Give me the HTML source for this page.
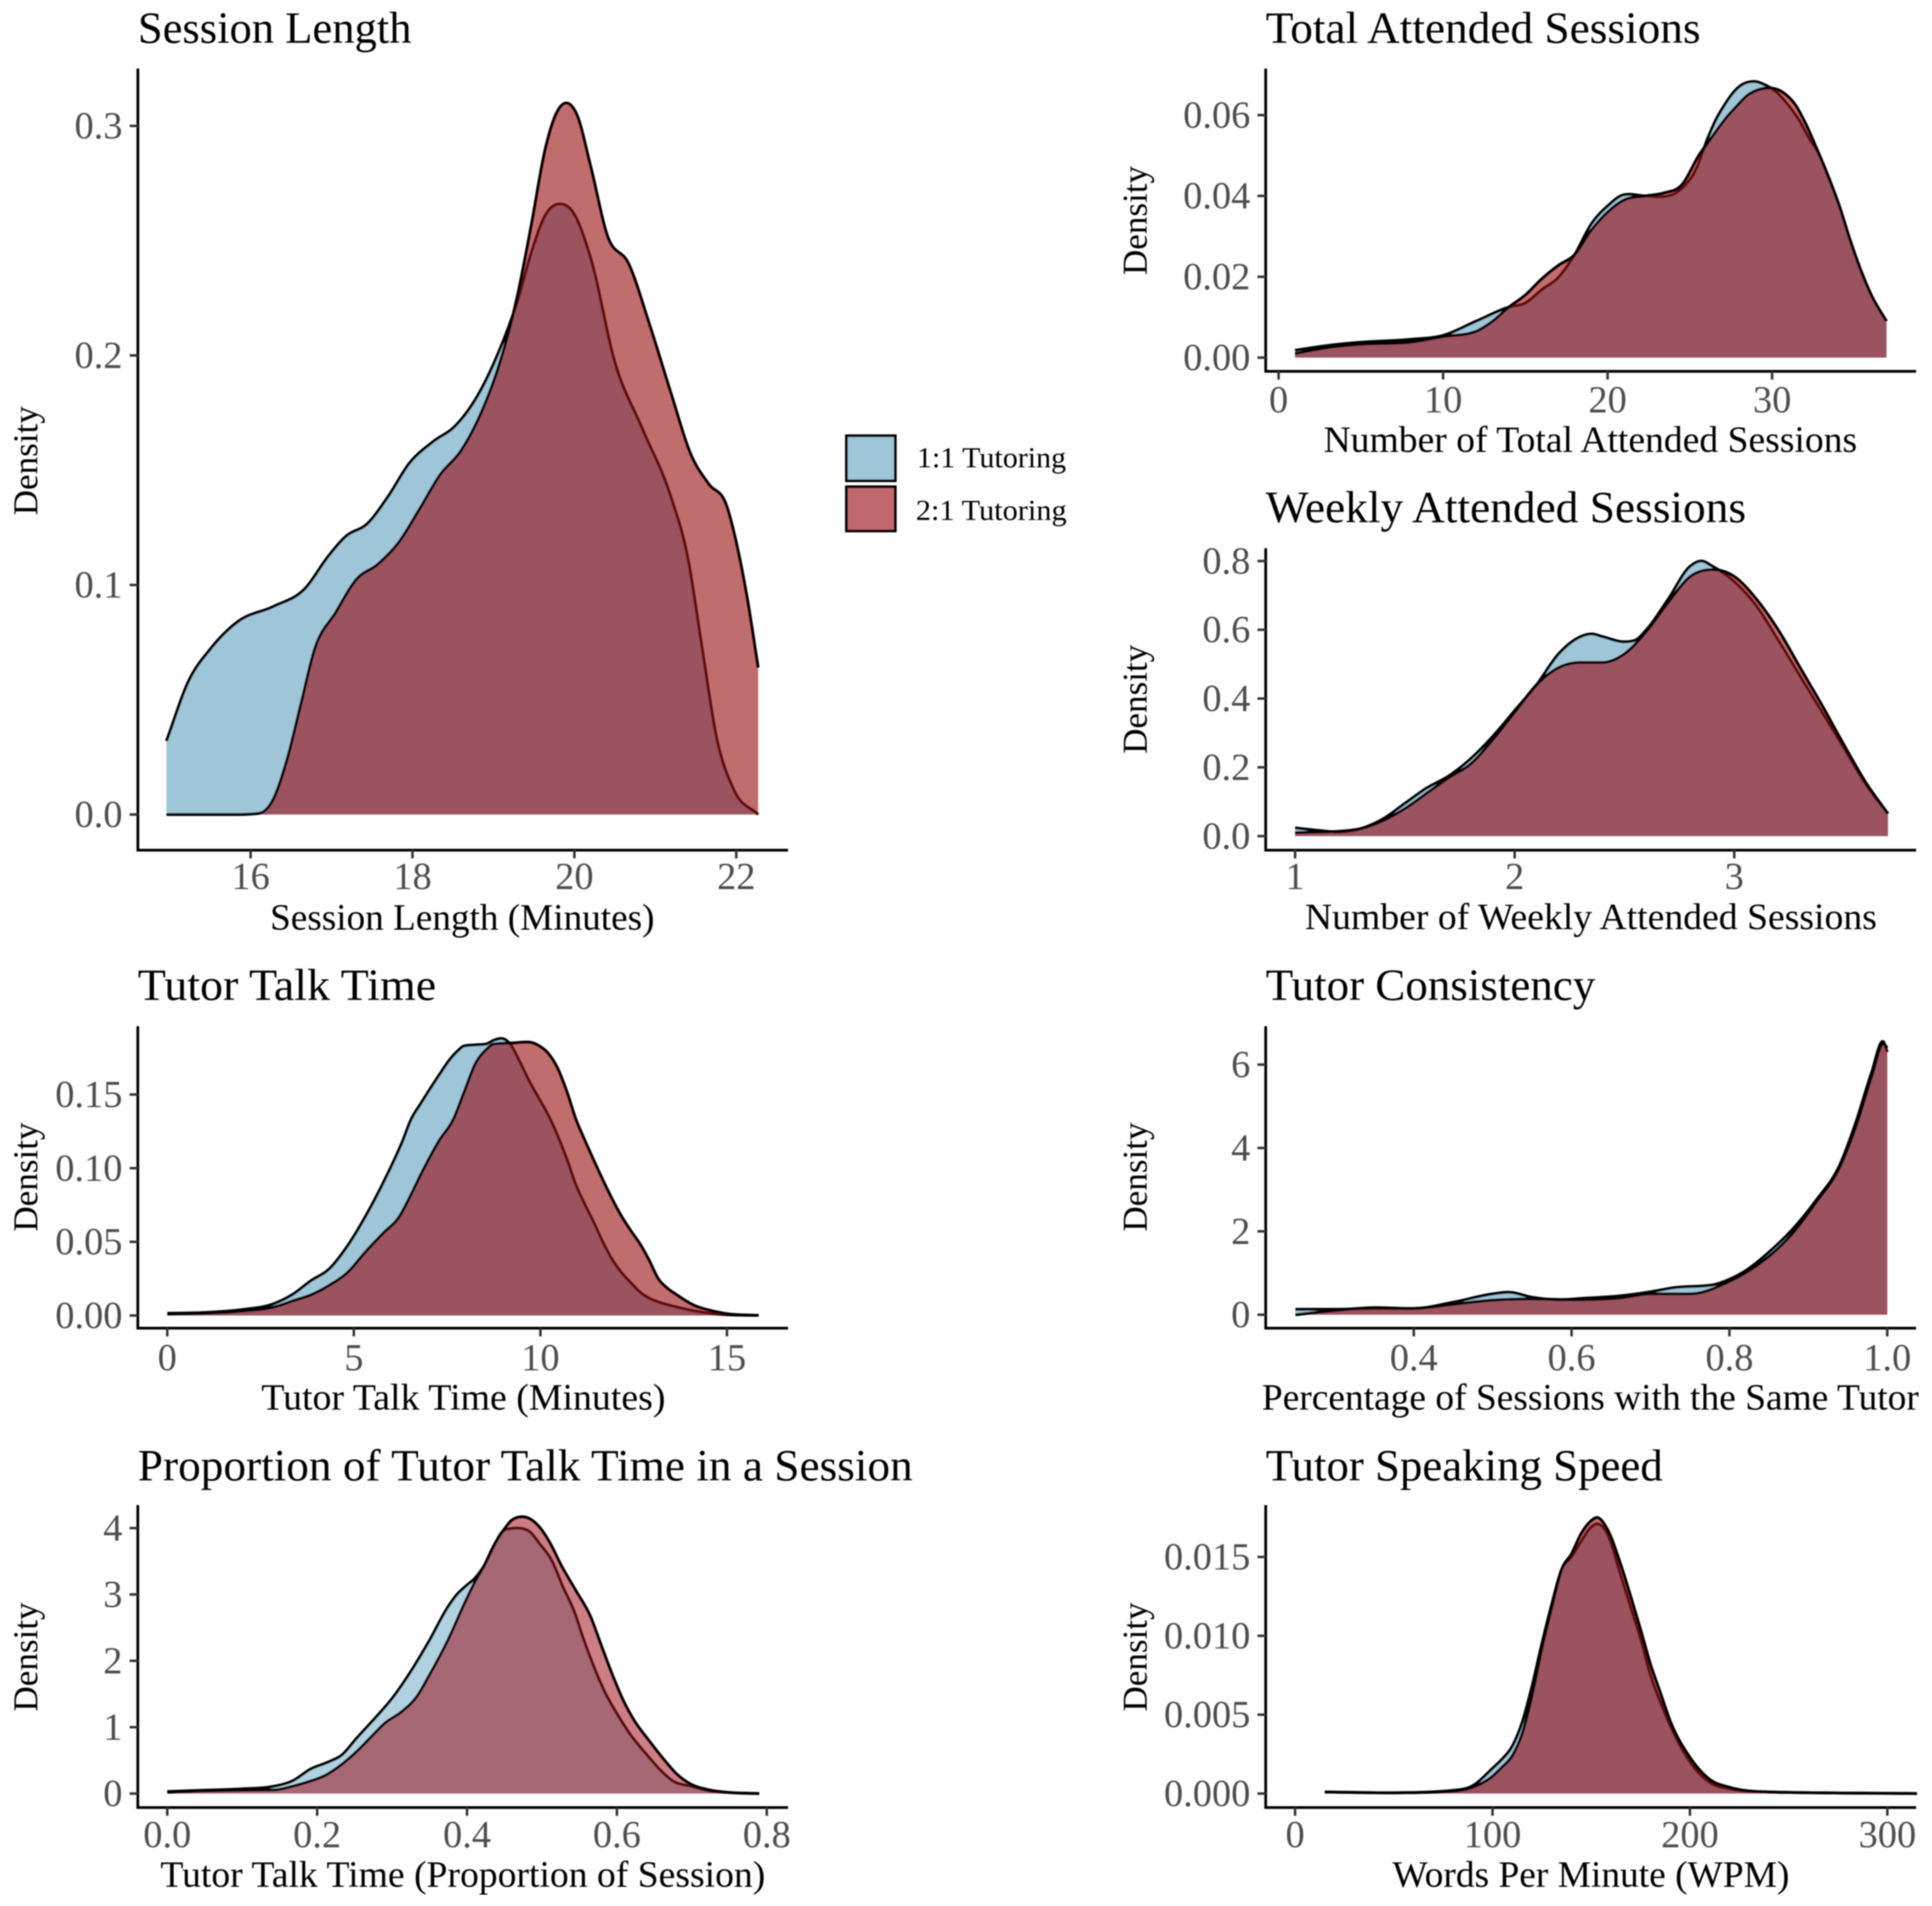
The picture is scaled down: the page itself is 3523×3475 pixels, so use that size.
<!DOCTYPE html>
<html lang="en">
<head>
<meta charset="utf-8">
<title>Tutoring density plots</title>
<style>
html,body{margin:0;padding:0;background:#fff;}
svg{display:block;}
text{font-family:"Liberation Serif",serif;}
</style>
</head>
<body>
<svg id="chart" xmlns="http://www.w3.org/2000/svg" width="3523" height="3475" viewBox="0 0 3523 3475">
<defs><filter id="soft" x="0" y="0" width="100%" height="100%"><feGaussianBlur stdDeviation="1"/></filter></defs>
<rect width="3523" height="3475" fill="#fff"/>
<g id="root" filter="url(#soft)"></g>
</svg>
<script>
// ---- Session Length ----
const sessionXTicks = ["16","18","20","22"];
const sessionYTicks = ["0.0","0.1","0.2","0.3"];
const sessionBlueX = [14.96,15.24,15.5,15.84,16.28,16.66,16.97,17.18,17.44,17.7,17.96,18.26,18.52,18.78,19.03,19.3,19.47,19.64,19.81,19.98,20.2,20.5,20.84,21.19,21.4,21.58,21.75,21.97,22.27];
const sessionBlueY = [0.032,0.0586,0.072,0.084,0.0906,0.098,0.113,0.1213,0.1266,0.1386,0.153,0.1626,0.169,0.181,0.1986,0.224,0.245,0.261,0.266,0.2625,0.2425,0.197,0.168,0.1386,0.112,0.072,0.0346,0.0107,0];
const sessionRedX = [14.96,15.8,16.1,16.28,16.45,16.62,16.79,17.05,17.31,17.57,17.83,18.09,18.34,18.6,18.86,19.08,19.3,19.47,19.64,19.77,19.9,20.03,20.2,20.41,20.67,20.93,21.19,21.45,21.66,21.88,22.01,22.14,22.27];
const sessionRedY = [0,0,0.0005,0.0067,0.024,0.048,0.072,0.088,0.1026,0.109,0.1186,0.1333,0.148,0.1586,0.176,0.197,0.2266,0.2573,0.29,0.305,0.31,0.305,0.2826,0.252,0.24,0.2133,0.184,0.156,0.144,0.1346,0.117,0.0933,0.064];

// ---- Total Attended Sessions ----
const totalXTicks = ["0","10","20","30"];
const totalYTicks = ["0.00","0.02","0.04","0.06"];
const totalBlueX = [1,3,5,8,10,12,14,15,16,17,18,19,20,21,22.28,23.4,24.5,25.4,26.06,26.6,27.06,27.6,28.2,28.95,29.5,30.28,30.95,31.6,32.28,32.84,33.4,34.06,34.73,35.4,36.06,36.95];
const totalBlueY = [0.0018,0.003,0.0038,0.0045,0.0055,0.009,0.0125,0.0135,0.0168,0.0198,0.0255,0.033,0.0375,0.0403,0.04,0.0398,0.0418,0.0468,0.054,0.059,0.0622,0.0654,0.0676,0.0683,0.0676,0.0656,0.0626,0.059,0.054,0.0504,0.0448,0.0378,0.0292,0.0215,0.0152,0.009];
const totalRedX = [1,3,5,8,10,12,13,14,15,16,17,18,19,20,21,22.28,23.4,24.5,25.6,26.17,26.73,27.28,27.84,28.5,29.17,29.84,30.73,31.4,32.06,32.7,33.4,34.06,34.73,35.4,36.06,36.95];
const totalRedY = [0.001,0.0025,0.0033,0.0038,0.0052,0.0065,0.009,0.0125,0.0155,0.0195,0.0228,0.0255,0.0315,0.036,0.039,0.04,0.0407,0.0427,0.0504,0.0536,0.0568,0.0597,0.0622,0.0649,0.0663,0.0667,0.0654,0.0626,0.0577,0.0518,0.045,0.0378,0.0292,0.0215,0.0152,0.009];

// ---- Weekly Attended Sessions ----
const weeklyXTicks = ["1","2","3"];
const weeklyYTicks = ["0.0","0.2","0.4","0.6","0.8"];
const weeklyBlueX = [1,1.1,1.2,1.3,1.4,1.5,1.6,1.7,1.8,1.9,2,2.1,2.2,2.3,2.35,2.4,2.5,2.55,2.6,2.7,2.8,2.85,2.9,3,3.1,3.2,3.3,3.4,3.5,3.6,3.7];
const weeklyBlueY = [0.024,0.017,0.012,0.022,0.05,0.095,0.14,0.175,0.225,0.29,0.365,0.44,0.53,0.58,0.588,0.58,0.565,0.57,0.6,0.69,0.785,0.8,0.785,0.74,0.67,0.57,0.465,0.36,0.255,0.15,0.065];
const weeklyRedX = [1,1.1,1.2,1.3,1.4,1.5,1.6,1.7,1.8,1.9,2,2.1,2.2,2.3,2.4,2.5,2.6,2.7,2.8,2.9,3,3.1,3.2,3.3,3.4,3.5,3.6,3.7];
const weeklyRedY = [0.01,0.012,0.014,0.022,0.045,0.08,0.125,0.17,0.21,0.28,0.36,0.44,0.49,0.505,0.505,0.53,0.595,0.68,0.755,0.775,0.755,0.69,0.6,0.49,0.38,0.265,0.155,0.065];

// ---- Tutor Talk Time ----
const talkXTicks = ["0","5","10","15"];
const talkYTicks = ["0.00","0.05","0.10","0.15"];
const talkBlueX = [0,1,2,2.87,3.36,3.85,4.34,4.83,5.32,5.81,6.3,6.54,6.78,7.28,7.57,7.77,7.96,8.25,8.55,8.75,8.97,9.19,9.43,9.72,9.97,10.21,10.46,10.71,10.95,11.2,11.44,11.69,11.93,12.17,12.42,12.66,12.91,13.15,13.64,14.13,14.62,15.1,15.85];
const talkBlueY = [0.0015,0.002,0.004,0.0081,0.0143,0.0236,0.0316,0.0472,0.0676,0.0912,0.118,0.1334,0.1433,0.163,0.1737,0.1793,0.183,0.1837,0.1843,0.1868,0.188,0.1843,0.1731,0.1582,0.147,0.136,0.1222,0.106,0.0887,0.075,0.0627,0.049,0.0378,0.0292,0.0223,0.0161,0.0118,0.0093,0.0058,0.0031,0.0012,0.0004,0.0001];
const talkRedX = [0,1,2,2.87,3.36,3.85,4.34,4.83,5.32,5.81,6.2,6.54,6.78,7.28,7.67,7.96,8.25,8.55,8.75,9.25,9.72,9.97,10.21,10.46,10.71,10.95,11.2,11.44,11.69,11.93,12.17,12.42,12.66,12.91,13.15,13.4,13.64,14.13,14.62,15.1,15.85];
const talkRedY = [0.001,0.0015,0.003,0.0058,0.0099,0.014,0.0205,0.0292,0.0434,0.0565,0.0664,0.0825,0.095,0.1185,0.1334,0.152,0.1706,0.1806,0.1843,0.185,0.1855,0.183,0.178,0.168,0.152,0.1334,0.1185,0.1049,0.0912,0.0788,0.0676,0.0577,0.049,0.0378,0.0254,0.0186,0.0143,0.0068,0.0031,0.0009,0.0001];

// ---- Proportion of Tutor Talk Time ----
const propXTicks = ["0.0","0.2","0.4","0.6","0.8"];
const propYTicks = ["0","1","2","3","4"];
const propBlueX = [0,0.05,0.1,0.1427,0.1671,0.1915,0.2159,0.2329,0.2524,0.2768,0.3012,0.3256,0.35,0.3744,0.3866,0.3988,0.411,0.4232,0.4354,0.4476,0.4574,0.4671,0.4842,0.4964,0.5135,0.5281,0.5428,0.555,0.5696,0.5842,0.6013,0.6184,0.638,0.6574,0.6745,0.699,0.7233,0.7527,0.79];
const propBlueY = [0.03,0.05,0.07,0.11,0.19,0.37,0.48,0.58,0.83,1.13,1.45,1.85,2.31,2.81,3,3.13,3.25,3.44,3.72,3.95,3.99,4,3.94,3.77,3.5,3.11,2.75,2.34,1.9,1.52,1.18,0.88,0.61,0.36,0.19,0.11,0.04,0.014,0];
const propRedX = [0,0.05,0.1,0.1427,0.1671,0.1915,0.211,0.2281,0.2524,0.2768,0.2891,0.3134,0.3329,0.35,0.3744,0.3988,0.411,0.4232,0.4354,0.4476,0.4598,0.4745,0.4964,0.5111,0.5257,0.5452,0.5647,0.5793,0.594,0.6087,0.6232,0.6428,0.6623,0.6794,0.699,0.7233,0.7527,0.79];
const propRedY = [0.02,0.04,0.05,0.055,0.11,0.19,0.275,0.4,0.63,0.91,1.05,1.24,1.46,1.79,2.31,2.92,3.2,3.44,3.73,3.95,4.12,4.17,4.02,3.77,3.44,3.06,2.67,2.23,1.79,1.4,1.1,0.8,0.52,0.3,0.14,0.055,0.014,0];

// ---- Tutor Consistency ----
const consXTicks = ["0.4","0.6","0.8","1.0"];
const consYTicks = ["0","2","4","6"];
const consBlueX = [0.25,0.3,0.35,0.4,0.45,0.5,0.52,0.55,0.58,0.62,0.66,0.7,0.73,0.78,0.8,0.82,0.85,0.88,0.91,0.94,0.96,0.98,0.995,1];
const consBlueY = [0.13,0.13,0.15,0.15,0.3,0.5,0.54,0.42,0.36,0.4,0.45,0.55,0.65,0.72,0.85,1.05,1.5,2.05,2.75,3.6,4.6,5.8,6.55,6.3];
const consRedX = [0.25,0.3,0.35,0.4,0.45,0.5,0.55,0.6,0.66,0.7,0.75,0.8,0.82,0.85,0.88,0.91,0.94,0.96,0.98,0.995,1];
const consRedY = [0,0.1,0.17,0.15,0.25,0.35,0.38,0.36,0.4,0.5,0.5,0.8,1,1.4,1.95,2.7,3.55,4.5,5.7,6.5,6.4];

// ---- Tutor Speaking Speed ----
const speedXTicks = ["0","100","200","300"];
const speedYTicks = ["0.000","0.005","0.010","0.015"];
const speedBlueX = [15,50,80,90,100,105,110,115,120,125,130,135,140,145,150,153,158,165,170,175,180,185,190,200,210,220,240,315];
const speedBlueY = [0.0001,0.00005,0.0002,0.0005,0.0016,0.0022,0.003,0.0045,0.0068,0.0095,0.012,0.0142,0.015,0.016,0.0169,0.0171,0.0165,0.0138,0.0118,0.0098,0.0075,0.0058,0.0043,0.002,0.0007,0.0003,0.0001,0];
const speedRedX = [15,50,80,90,100,105,110,115,120,125,130,135,140,145,150,153,158,165,170,175,180,185,190,200,210,220,240,315];
const speedRedY = [0.0001,0.00005,0.00015,0.0004,0.0011,0.0017,0.0024,0.0038,0.0062,0.0092,0.0118,0.0142,0.0152,0.0165,0.0173,0.0175,0.0168,0.0145,0.0125,0.0104,0.0082,0.0064,0.0046,0.0023,0.0009,0.0004,0.0001,0];

const NS = 'http://www.w3.org/2000/svg';
const root = document.getElementById('root');

function make(tag, attrs, parent, text) {
  const el = document.createElementNS(NS, tag);
  for (const k in attrs) el.setAttribute(k, attrs[k]);
  if (text !== undefined) el.textContent = text;
  parent.appendChild(el);
  return el;
}

// smooth cubic path through pixel points (non-uniform three-point slopes)
function curve(px) {
  const n = px.length;
  const m = new Array(n).fill(0);
  const s = [];
  for (let i = 0; i < n - 1; i++) s.push((px[i + 1][1] - px[i][1]) / (px[i + 1][0] - px[i][0]));
  m[0] = s[0];
  m[n - 1] = s[n - 2];
  for (let i = 1; i < n - 1; i++) {
    const h0 = px[i][0] - px[i - 1][0];
    const h1 = px[i + 1][0] - px[i][0];
    const p = (s[i - 1] * h1 + s[i] * h0) / (h0 + h1);
    if (s[i - 1] === 0 || s[i] === 0) { m[i] = 0; continue; }
    if (s[i - 1] * s[i] < 0) { m[i] = p * 0.5; continue; }
    const lim = 2.5 * Math.min(Math.abs(s[i - 1]), Math.abs(s[i]));
    m[i] = Math.sign(p) * Math.min(Math.abs(p), lim);
  }
  let d = 'M' + px[0][0].toFixed(1) + ' ' + px[0][1].toFixed(1);
  for (let i = 0; i < n - 1; i++) {
    const h = (px[i + 1][0] - px[i][0]) / 3;
    d += 'C' + (px[i][0] + h).toFixed(1) + ' ' + (px[i][1] + m[i] * h).toFixed(1) + ' ' +
      (px[i + 1][0] - h).toFixed(1) + ' ' + (px[i + 1][1] - m[i + 1] * h).toFixed(1) + ' ' +
      px[i + 1][0].toFixed(1) + ' ' + px[i + 1][1].toFixed(1);
  }
  return d;
}

function drawPanel(o) {
  const g = make('g', {}, root);
  
  

  const xs = v => o.xPx0 + (v - o.xV0) * o.xUnit;
  const ys = v => o.yPx0 - v * o.yUnit;

  // series
  const series = [
    { key: 'one-to-one', X: o.blueX, Y: o.blueY, fill: o.blueFill, op: 1, stroke: '#000' },
    { key: 'two-to-one', X: o.redX, Y: o.redY, fill: o.redFill, op: o.redAlpha, stroke: '#000' }
  ];
  series.forEach(s => {
    const pts = s.X.map((x, i) => [xs(x), ys(s.Y[i])]);
    const line = curve(pts);
    const area = line + 'L' + pts[pts.length - 1][0].toFixed(1) + ' ' + o.yPx0 + 'L' + pts[0][0].toFixed(1) + ' ' + o.yPx0 + 'Z';
    const a = make('path', { d: area, fill: s.fill, 'fill-opacity': s.op, stroke: 'none' }, g);
    
    
    const l = make('path', { d: line, fill: 'none', stroke: s.stroke, 'stroke-width': 5.2, 'stroke-linejoin': 'round' }, g);
    
    
  });

  // axes
  const ax = make('line', { x1: o.left, x2: o.left, y1: o.top, y2: o.bottom + 2.5, stroke: '#000', 'stroke-width': 5 }, g);
  
  
  const ay = make('line', { x1: o.left, x2: o.right, y1: o.bottom, y2: o.bottom, stroke: '#000', 'stroke-width': 5 }, g);
  
  

  // ticks
  o.xTicks.forEach(lab => {
    const v = parseFloat(lab);
    const t = make('line', { x1: xs(v), x2: xs(v), y1: o.bottom, y2: o.bottom + 15, stroke: '#333', 'stroke-width': 4.5 }, g);
    
    
    const tx = make('text', { x: xs(v), y: o.xTickY, 'font-size': 70, fill: '#4d4d4d', 'text-anchor': 'middle' }, g, lab);
    
    
  });
  o.yTicks.forEach(lab => {
    const v = parseFloat(lab);
    const t = make('line', { x1: o.left - 15, x2: o.left, y1: ys(v), y2: ys(v), stroke: '#333', 'stroke-width': 4.5 }, g);
    
    
    const tx = make('text', { x: o.left - 28, y: ys(v) + 23, 'font-size': 70, fill: '#4d4d4d', 'text-anchor': 'end' }, g, lab);
    
    
  });

  // titles
  const ti = make('text', { x: o.left, y: o.titleY + 2, 'font-size': 82, fill: '#000', textLength: o.titleLen, lengthAdjust: 'spacingAndGlyphs' }, g, o.title);
  
  
  const xt = make('text', { x: o.xTitleC, y: o.xTitleY, 'font-size': 68, fill: '#000', 'text-anchor': 'middle', textLength: o.xTitleLen, lengthAdjust: 'spacingAndGlyphs' }, g, o.xTitle);
  
  
  const yt = make('text', { transform: 'translate(' + (o.yTitleX + 18) + ' ' + o.yTitleC + ') rotate(-90)', 'font-size': 64, fill: '#000', 'text-anchor': 'middle' }, g, 'Density');
  
  
}

const BLUE = '#9fc5d8';
const RED = 'rgb(153,11,21)';

drawPanel({ name: 'session-length', title: 'Session Length', titleLen: 499, xTitle: 'Session Length (Minutes)', xTitleLen: 701, xTitleC: 843,
  left: 251.4, right: 1437, top: 125, bottom: 1550, xPx0: 457, xV0: 16, xUnit: 147.6, yPx0: 1485, yUnit: 4185,
  xTicks: sessionXTicks, yTicks: sessionYTicks, blueX: sessionBlueX, blueY: sessionBlueY, redX: sessionRedX, redY: sessionRedY,
  blueFill: BLUE, redFill: RED, redAlpha: 0.62, titleY: 76, xTickY: 1621, xTitleY: 1695, yTitleX: 50, yTitleC: 840 });

drawPanel({ name: 'total-attended', title: 'Total Attended Sessions', titleLen: 793, xTitle: 'Number of Total Attended Sessions', xTitleLen: 973, xTitleC: 2900,
  left: 2308, right: 3494, top: 125, bottom: 677, xPx0: 2331.5, xV0: 0, xUnit: 30, yPx0: 652, yUnit: 7370,
  xTicks: totalXTicks, yTicks: totalYTicks, blueX: totalBlueX, blueY: totalBlueY, redX: totalRedX, redY: totalRedY,
  blueFill: BLUE, redFill: RED, redAlpha: 0.62, titleY: 76, xTickY: 752, xTitleY: 824, yTitleX: 2073, yTitleC: 402 });

drawPanel({ name: 'weekly-attended', title: 'Weekly Attended Sessions', titleLen: 876, xTitle: 'Number of Weekly Attended Sessions', xTitleLen: 1043, xTitleC: 2901,
  left: 2308, right: 3494, top: 999.5, bottom: 1550, xPx0: 2361.6, xV0: 1, xUnit: 400.4, yPx0: 1524.4, yUnit: 627,
  xTicks: weeklyXTicks, yTicks: weeklyYTicks, blueX: weeklyBlueX, blueY: weeklyBlueY, redX: weeklyRedX, redY: weeklyRedY,
  blueFill: BLUE, redFill: RED, redAlpha: 0.62, titleY: 950, xTickY: 1621, xTitleY: 1694, yTitleX: 2073, yTitleC: 1275 });

drawPanel({ name: 'tutor-talk-time', title: 'Tutor Talk Time', titleLen: 544, xTitle: 'Tutor Talk Time (Minutes)', xTitleLen: 737, xTitleC: 845,
  left: 251.3, right: 1437, top: 1871, bottom: 2421.5, xPx0: 305, xV0: 0, xUnit: 68.04, yPx0: 2398.4, yUnit: 2686,
  xTicks: talkXTicks, yTicks: talkYTicks, blueX: talkBlueX, blueY: talkBlueY, redX: talkRedX, redY: talkRedY,
  blueFill: BLUE, redFill: RED, redAlpha: 0.62, titleY: 1821, xTickY: 2498.5, xTitleY: 2570, yTitleX: 50, yTitleC: 2146 });

drawPanel({ name: 'talk-proportion', title: 'Proportion of Tutor Talk Time in a Session', titleLen: 1413, xTitle: 'Tutor Talk Time (Proportion of Session)', xTitleLen: 1103, xTitleC: 844,
  left: 251.3, right: 1437, top: 2744, bottom: 3295.5, xPx0: 305, xV0: 0, xUnit: 1366.5, yPx0: 3270, yUnit: 121,
  xTicks: propXTicks, yTicks: propYTicks, blueX: propBlueX, blueY: propBlueY, redX: propRedX, redY: propRedY,
  blueFill: '#b0d2e0', redFill: 'rgb(160,15,30)', redAlpha: 0.55, titleY: 2697, xTickY: 3368, xTitleY: 3440, yTitleX: 50, yTitleC: 3021 });

drawPanel({ name: 'tutor-consistency', title: 'Tutor Consistency', titleLen: 601, xTitle: 'Percentage of Sessions with the Same Tutor', xTitleLen: 1198, xTitleC: 2900,
  left: 2308, right: 3494, top: 1871, bottom: 2421.5, xPx0: 2578, xV0: 0.4, xUnit: 1439, yPx0: 2397, yUnit: 76,
  xTicks: consXTicks, yTicks: consYTicks, blueX: consBlueX, blueY: consBlueY, redX: consRedX, redY: consRedY,
  blueFill: BLUE, redFill: RED, redAlpha: 0.62, titleY: 1821, xTickY: 2498.5, xTitleY: 2570, yTitleX: 2073, yTitleC: 2146 });

drawPanel({ name: 'speaking-speed', title: 'Tutor Speaking Speed', titleLen: 724, xTitle: 'Words Per Minute (WPM)', xTitleLen: 724, xTitleC: 2901,
  left: 2308, right: 3494, top: 2744, bottom: 3295.5, xPx0: 2361.6, xV0: 0, xUnit: 3.6, yPx0: 3270, yUnit: 28760,
  xTicks: speedXTicks, yTicks: speedYTicks, blueX: speedBlueX, blueY: speedBlueY, redX: speedRedX, redY: speedRedY,
  blueFill: BLUE, redFill: RED, redAlpha: 0.62, titleY: 2697, xTickY: 3368, xTitleY: 3440, yTitleX: 2073, yTitleC: 3021 });

// legend
const legend = make('g', {}, root);


const key1 = make('rect', { x: 1543.5, y: 794.5, width: 89, height: 82, fill: BLUE, stroke: '#000', 'stroke-width': 5 }, legend);


const key2 = make('rect', { x: 1543.5, y: 887.5, width: 89, height: 80.5, fill: '#c0686e', stroke: '#000', 'stroke-width': 5 }, legend);


const lab1 = make('text', { x: 1672, y: 852, 'font-size': 53, fill: '#000', textLength: 272, lengthAdjust: 'spacingAndGlyphs' }, legend, '1:1 Tutoring');


const lab2 = make('text', { x: 1670, y: 948, 'font-size': 53, fill: '#000', textLength: 275, lengthAdjust: 'spacingAndGlyphs' }, legend, '2:1 Tutoring');


</script>
</body>
</html>
